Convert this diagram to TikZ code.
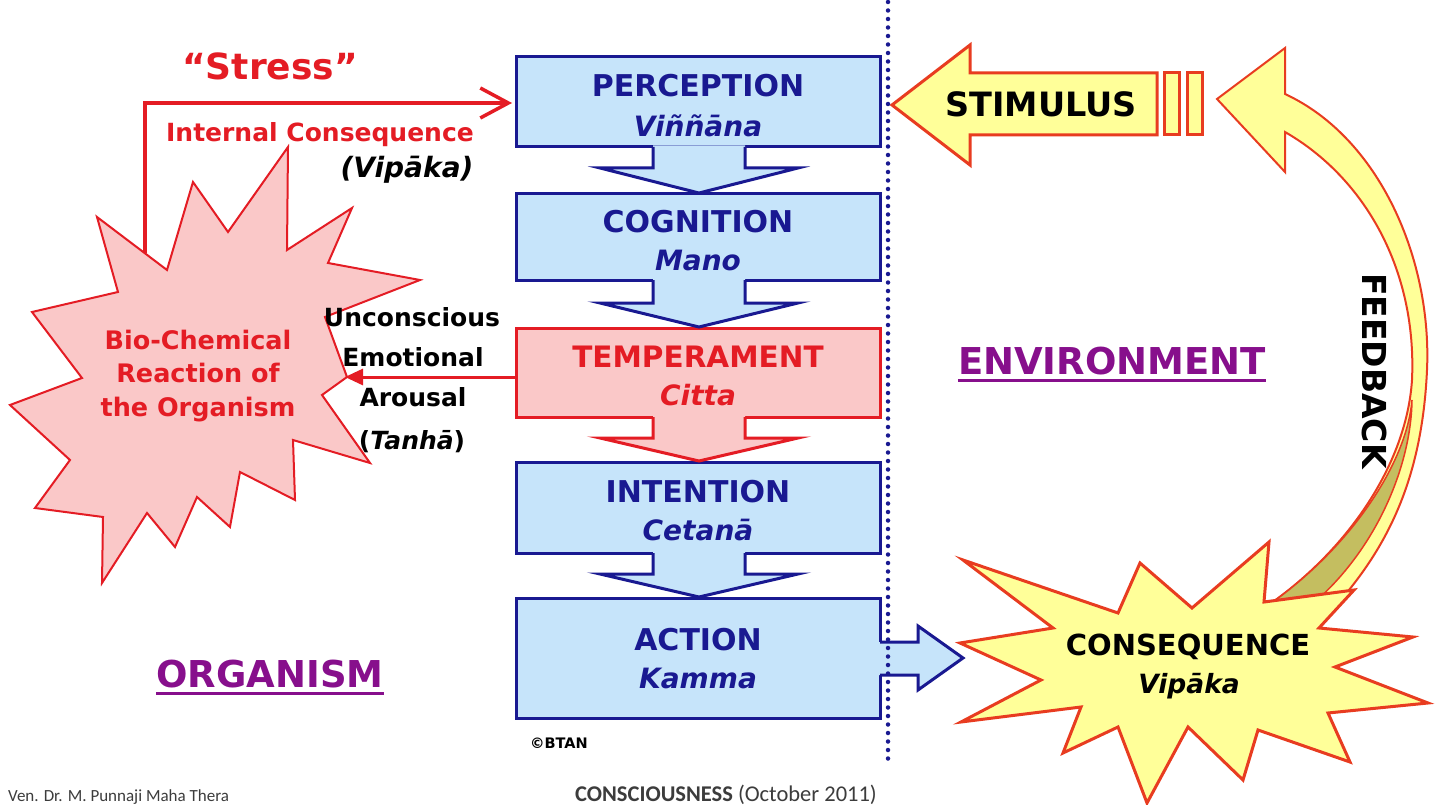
\documentclass[tikz,border=0pt]{standalone}
\usepackage{fontspec}
\setmainfont{DejaVu Sans}[BoldFont={DejaVu Sans Bold},ItalicFont={DejaVu Sans Oblique},BoldItalicFont={DejaVu Sans Bold Oblique}]
\newfontfamily\footfont{Carlito}
\usetikzlibrary{arrows.meta}
\definecolor{navy}{RGB}{25,25,145}
\definecolor{lblue}{RGB}{198,228,250}
\definecolor{pinkf}{RGB}{250,200,200}
\definecolor{redd}{RGB}{228,28,36}
\definecolor{yel}{RGB}{255,255,153}
\definecolor{purp}{RGB}{135,15,140}
\definecolor{olv}{RGB}{196,190,96}
\definecolor{ored}{RGB}{232,60,32}
\definecolor{footgray}{RGB}{60,60,60}
\tikzset{
  boxbase/.style={line width=3pt, minimum width=364pt, inner sep=0pt, outer sep=0pt},
  bluebox/.style={boxbase, draw=navy, fill=lblue},
  pinkbox/.style={boxbase, draw=redd, fill=pinkf},
  lbl/.style={inner sep=0pt, anchor=base},
  fsz/.style={font=\fontsize{#1}{#1}\selectfont\bfseries},
  fszi/.style={font=\fontsize{#1}{#1}\selectfont\bfseries\itshape},
  burstpink/.style={fill=pinkf, draw=redd, line width=2pt, line join=miter},
  burstyel/.style={fill=yel, draw=ored, line width=3pt, line join=miter},
  yelarrow/.style={fill=yel, draw=ored, line width=3pt, line join=miter},
  uline/.style={purp, line width=3pt},
}
\newcommand\vblock[5]{%
  \fill[#4] (653,#1-1.6) -- (653,#2) -- (600,#2) -- (699,#3) -- (798,#2) -- (745,#2) -- (745,#1-1.6) -- cycle;
  \draw[#5,line width=3pt,line join=miter] (653,#1) -- (653,#2) -- (600,#2) -- (699,#3) -- (798,#2) -- (745,#2) -- (745,#1);}
\begin{document}
\begin{tikzpicture}[x=1pt,y=-1pt]
\fill[white] (0,0) rectangle (1438,805);
\useasboundingbox (0,0) rectangle (1438,805);

% ---------- bio-chemical starburst ----------
\draw[burstpink] (97,217) -- (167,270) -- (193,182) -- (228,232) -- (288,147) -- (287,250) -- (352,208) -- (328,263) -- (420,280) -- (325,317) -- (347,377) -- (322,395) -- (370,463) -- (293,440) -- (295,500) -- (240,472) -- (230,527) -- (197,497) -- (175,547) -- (147,513) -- (102,583) -- (103,517) -- (35,508) -- (70,460) -- (10,405) -- (82,378) -- (32,312) -- (118,292) -- cycle;
\node[lbl, fsz=25.5, text=redd] (bio1) at (198,349) {Bio-Chemical};
\node[lbl, fsz=25.5, text=redd] (bio2) at (198,382) {Reaction of};
\node[lbl, fsz=25.5, text=redd] (bio3) at (198,416) {the Organism};

% ---------- central boxes ----------
\node[bluebox, minimum height=90pt] (perc) at (698,102) {};
\node[bluebox, minimum height=86pt] (cogn) at (698,237) {};
\node[pinkbox, minimum height=89pt] (temp) at (698,372.5) {};
\node[bluebox, minimum height=91pt] (inte) at (698,507.5) {};
\node[bluebox, minimum height=120pt] (acti) at (698,658) {};

\vblock{147}{168}{193}{lblue}{navy}
\vblock{280}{303}{327}{lblue}{navy}
\vblock{417}{438}{461}{pinkf}{redd}
\vblock{553}{574}{597}{lblue}{navy}

\node[lbl, fsz=30, text=navy] (percT) at (698,97) {PERCEPTION};
\node[lbl, fszi=28, text=navy] (percP) at (698,137) {Viññāna};
\node[lbl, fsz=30, text=navy] (cognT) at (698,233) {COGNITION};
\node[lbl, fszi=28, text=navy] (cognP) at (698,270) {Mano};
\node[lbl, fsz=29.5, text=redd] (tempT) at (698,367) {TEMPERAMENT};
\node[lbl, fszi=28, text=redd] (tempP) at (698,405) {Citta};
\node[lbl, fsz=30, text=navy] (inteT) at (698,502) {INTENTION};
\node[lbl, fszi=28, text=navy] (inteP) at (698,540) {Cetanā};
\node[lbl, fsz=30, text=navy] (actiT) at (698,650) {ACTION};
\node[lbl, fszi=28, text=navy] (actiP) at (698,688) {Kamma};
\node[lbl, fsz=14.5] (btan) at (559,748) {©BTAN};

% ---------- action -> consequence block arrow ----------
\fill[lblue] (878.4,642) -- (918,642) -- (918,626) -- (963,658) -- (918,690) -- (918,675) -- (878.4,675) -- cycle;
\draw[navy,line width=3pt,line join=miter] (880,642) -- (918,642) -- (918,626) -- (963,658) -- (918,690) -- (918,675) -- (880,675);

% ---------- stress arrow ----------
\coordinate (bioTop) at (145,253);
\coordinate (stressTip) at (512,103);
\draw[redd, line width=3.5pt, -{Straight Barb[length=28pt,width=30pt]}] (bioTop) |- (stressTip);
\node[lbl, fsz=36, text=redd] (stress) at (270,80) {“Stress”};
\node[lbl, fsz=25, text=redd] (intc) at (320,142) {Internal Consequence};
\node[lbl, fszi=28] (vip1) at (407,178) {(Vipāka)};

% ---------- temperament -> bio arrow ----------
\coordinate (bioR) at (345,377);
\draw[redd, line width=3pt, -{Triangle[length=18pt,width=16pt]}] (temp.west |- bioR) -- (bioR);
\node[lbl, fsz=25] (unc1) at (412,326) {Unconscious};
\node[lbl, fsz=25] (unc2) at (413,366) {Emotional};
\node[lbl, fsz=25] (unc3) at (413,406) {Arousal};
\node[lbl, fsz=25] (unc4) at (412,449) {(\textit{Tanhā})};

% ---------- organism / environment ----------
\node[lbl, fsz=37, text=purp] (org) at (270,687) {ORGANISM};
\draw[uline] ([yshift=-6pt]org.base west) -- ([yshift=-6pt]org.base east);
\node[lbl, fsz=37, text=purp] (env) at (1112,374) {ENVIRONMENT};
\draw[uline] ([yshift=-6pt]env.base west) -- ([yshift=-6pt]env.base east);

% ---------- feedback curved arrow ----------
\draw[fill=yel, draw=ored, line width=2pt, line join=miter]
  (1217,99) -- (1285,48) -- (1285,94)
  .. controls (1380,138) and (1432,260) .. (1427,370)
  .. controls (1422,480) and (1387,550) .. (1330,612)
  -- (1255,614)
  .. controls (1340,560) and (1406,470) .. (1412,380)
  .. controls (1417,270) and (1365,178) .. (1285,132)
  -- (1285,172) -- cycle;
\draw[fill=olv, draw=ored, line width=1.5pt]
  (1255,614) .. controls (1340,560) and (1406,470) .. (1412,400)
  .. controls (1411,470) and (1372,560) .. (1300,614) -- cycle;
\node[rotate=-90, inner sep=0pt, fsz=33] (fbt) at (1374,371) {FEEDBACK};

% ---------- consequence starburst ----------
\draw[burstyel] (963,560) -- (1118,613) -- (1140,563) -- (1192,608) -- (1269,542) -- (1264,602) -- (1354,590) -- (1319,628) -- (1413,637) -- (1335,667) -- (1428,703) -- (1328,713) -- (1350,762) -- (1258,730) -- (1243,780) -- (1188,727) -- (1147,803) -- (1118,727) -- (1063,753) -- (1081,707) -- (961,722) -- (1041,680) -- (960,643) -- (1053,628) -- cycle;
\node[lbl, fsz=29] (cons) at (1188,655) {CONSEQUENCE};
\node[lbl, fszi=26.5] (consP) at (1189,693) {Vipāka};

% ---------- stimulus arrow ----------
\draw[yelarrow] (892,105) -- (970,45) -- (970,73) -- (1157,73) -- (1157,135) -- (970,135) -- (970,165) -- cycle;
\draw[yelarrow] (1164,73) rectangle (1179,135);
\draw[yelarrow] (1187,73) rectangle (1202,135);
\node[lbl, fsz=33.5] (stim) at (1041,117) {STIMULUS};

% ---------- dotted divider ----------
\draw[navy, line width=4.5pt, line cap=round, dash pattern=on 0pt off 8.5pt] (888,2) -- (888,760);

% ---------- footer ----------
\node[lbl, anchor=base west, text=footgray, font=\footfont\fontsize{17}{17}\selectfont] (author) at (8,801) {Ven. Dr. M. Punnaji Maha Thera};
\node[lbl, anchor=base west, text=footgray, font=\footfont\fontsize{22.5}{22.5}\selectfont] (title) at (575,801) {\textbf{CONSCIOUSNESS} (October 2011)};
\end{tikzpicture}
\end{document}
